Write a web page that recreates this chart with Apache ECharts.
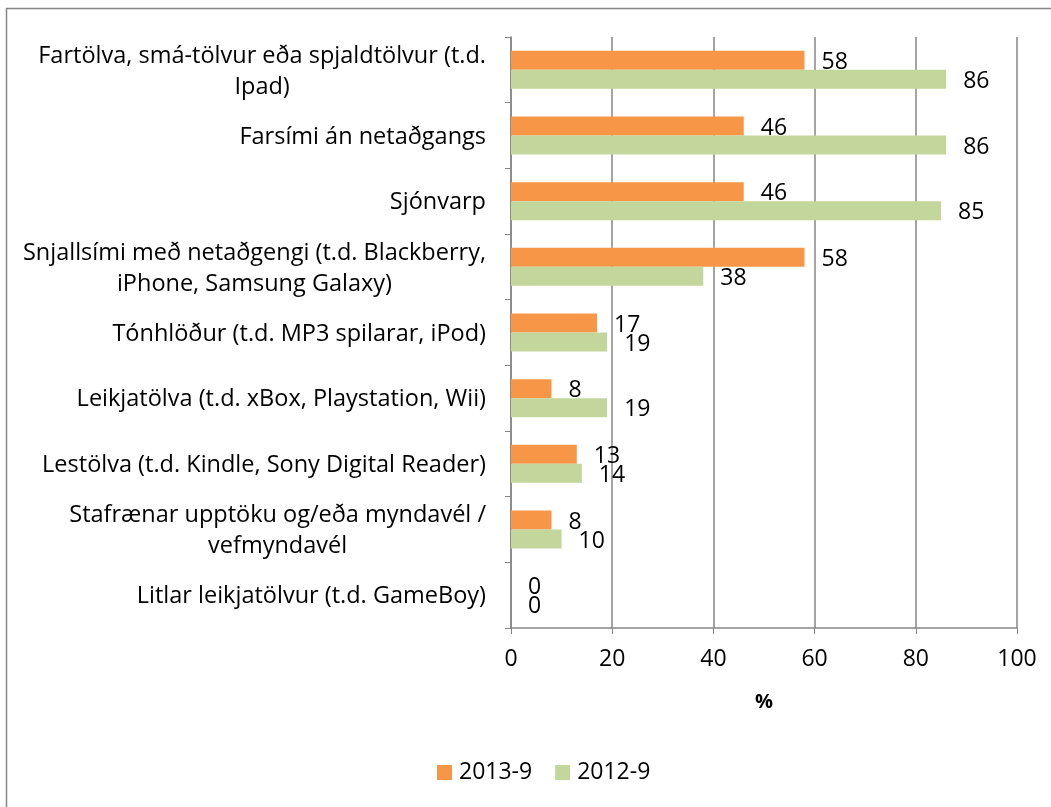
<!DOCTYPE html>
<html><head><meta charset="utf-8">
<script src="https://cdn.jsdelivr.net/npm/echarts@6/dist/echarts.min.js"></script>
<style>html,body{margin:0;padding:0;background:#fff}#c{width:1051px;height:807px}</style>
</head><body><div id="c"></div>
<script>
const categories = [
  "Fartölva, smá-tölvur eða spjaldtölvur (t.d.\nIpad)",
  "Farsími án netaðgangs",
  "Sjónvarp",
  "Snjallsími með netaðgengi (t.d. Blackberry,\niPhone, Samsung Galaxy)",
  "Tónhlöður (t.d. MP3 spilarar, iPod)",
  "Leikjatölva (t.d. xBox, Playstation, Wii)",
  "Lestölva (t.d. Kindle, Sony Digital Reader)",
  "Stafrænar upptöku og/eða myndavél /\nvefmyndavél",
  "Litlar leikjatölvur (t.d. GameBoy)"
];
const series2013 = [58, 46, 46, 58, 17, 8, 13, 8, 0];
const series2012 = [86, 86, 85, 38, 19, 19, 14, 10, 0];
const seriesNames = ["2013-9", "2012-9"];
const xTicks = [0, 20, 40, 60, 80, 100];

const FONT = "'Open Sans', Lato, 'Liberation Sans', sans-serif";
const FS = 23;
const chart = echarts.init(document.getElementById('c'), null, {renderer: 'canvas'});
chart.setOption({
  animation: false,
  textStyle: {fontFamily: FONT},
  graphic: [{type: 'rect', shape: {x: 6.5, y: 8.5, width: 1200, height: 900},
    style: {fill: 'none', stroke: '#868686', lineWidth: 1.5}}],
  grid: {left: 511, right: 34, top: 37, bottom: 179},
  legend: {
    bottom: 18, left: 432, itemWidth: 15, itemHeight: 15, itemGap: 23,
    icon: 'rect', data: seriesNames,
    textStyle: {fontSize: FS, color: '#000', fontFamily: FONT, padding: [0, 0, 0, 2]}
  },
  xAxis: {
    type: 'value', min: xTicks[0], max: xTicks[xTicks.length - 1], interval: 20,
    name: '%', nameLocation: 'middle', nameGap: 64,
    nameTextStyle: {fontSize: 20, fontWeight: 'bold', color: '#000', fontFamily: FONT},
    axisLine: {show: true, lineStyle: {color: '#868686', width: 1.5}},
    axisTick: {show: true, length: 6, lineStyle: {color: '#868686'}},
    axisLabel: {fontSize: FS, color: '#000', margin: 20, fontFamily: FONT},
    splitLine: {show: true, lineStyle: {color: '#868686', width: 1.5}}
  },
  yAxis: {
    type: 'category', data: categories, inverse: true,
    axisLine: {show: true, lineStyle: {color: '#868686', width: 1.5}},
    axisTick: {show: true, length: 6, lineStyle: {color: '#868686'}},
    axisLabel: {
      fontSize: 23.5, color: '#000', margin: 25, align: 'right', lineHeight: 31,
      fontFamily: FONT,
      formatter: v => v.split('\n').map(s => '{c|' + s + '}').join('\n'),
      rich: {c: {align: 'center', fontSize: 23.5, lineHeight: 31, fontFamily: FONT, color: '#000', padding: [3, 0, 0, 0]}}
    }
  },
  series: [
    {name: seriesNames[0], type: 'bar', data: series2013, barWidth: 19, barGap: '0%',
     itemStyle: {color: '#F79646'},
     label: {show: true, position: 'right', distance: 17, offset: [0, 2], fontSize: FS, color: '#000', fontFamily: FONT}},
    {name: seriesNames[1], type: 'bar', data: series2012, barWidth: 19, barGap: '0%',
     itemStyle: {color: '#C3D69B'},
     label: {show: true, position: 'right', distance: 17, offset: [0, 2], fontSize: FS, color: '#000', fontFamily: FONT}}
  ]
});
</script></body></html>
